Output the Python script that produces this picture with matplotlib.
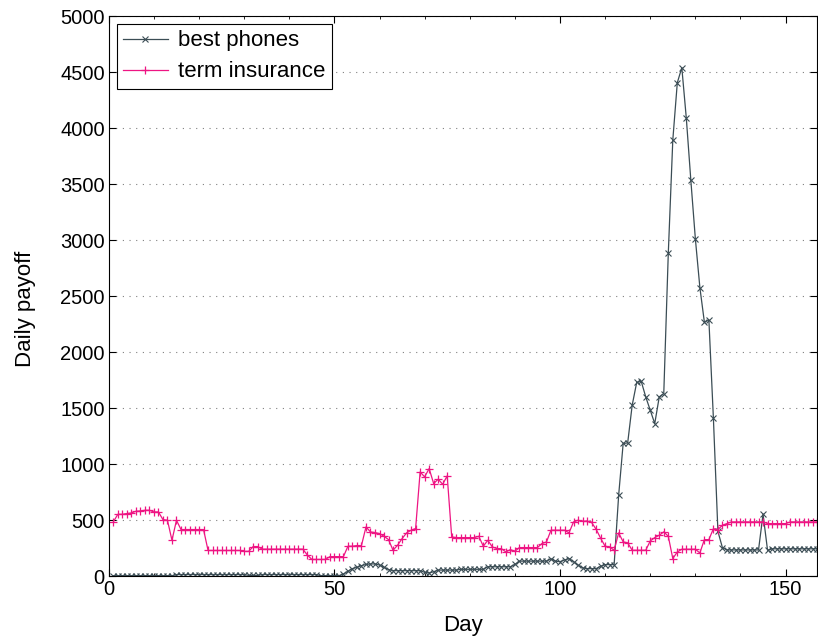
import matplotlib
matplotlib.use('Agg')
import matplotlib.pyplot as plt
from matplotlib.ticker import MultipleLocator

plt.rcParams['font.family'] = ['Liberation Sans', 'DejaVu Sans']

# dias 1..157
dias = list(range(1, 158))

best_phones = [
    5, 5, 5, 5, 5, 5, 5, 5, 5, 5, 5, 5, 5, 5,
    15, 15, 15, 15, 15, 15, 15, 15, 15, 15, 15, 15, 15, 15, 15, 15,
    8, 8, 8,
    15, 15, 15, 15, 15, 15, 15, 15, 15, 15, 15, 15, 15,
    5, 5, 5, 5, 5, 20,
    45, 68, 80, 95, 105, 110, 110, 100, 80, 60,
    50, 50, 50, 50, 50, 50, 50,
    35, 30, 40,
    55, 55, 55, 55, 55,
    62, 62, 62, 62, 62, 62,
    85, 85, 85, 85, 85, 85,
    105,
    135, 135, 135, 135, 135, 135, 135,
    155, 135, 130, 145, 158, 130, 100, 75,
    68, 68, 68, 89, 104, 104, 104,
    723, 1185, 1190, 1527, 1730, 1740, 1601, 1482, 1363, 1601, 1631,
    2881, 3893, 4405, 4539, 4086, 3533, 3012, 2577, 2268, 2286, 1408,
    400, 255,
    235, 235, 235, 235, 235, 235, 235, 235,
    554, 232,
    245, 245, 245, 245, 245, 245, 245, 245, 245, 245, 245,
]

term_insurance = [
    485, 553, 553, 560, 565, 580, 583, 589, 589, 574, 574, 506, 500, 321, 500,
    417, 417, 417, 417, 417, 417,
    230, 230, 230, 230, 230, 230, 230, 230,
    222, 222, 265, 265,
    242, 242, 242, 242, 242, 242, 242, 242, 242, 242,
    190, 150, 150, 150, 150,
    175, 175, 175, 175,
    268, 268, 274, 274,
    440, 396, 390, 381, 357, 327, 232, 277, 336, 387, 411, 426,
    931, 887, 961, 827, 866, 821, 896, 351,
    345, 345, 345, 345, 345, 357,
    268, 321, 262, 247, 247, 217, 238, 223,
    256, 256, 256, 256, 256,
    292, 306,
    411, 411, 411, 411,
    387, 485, 500, 490, 494, 480, 420, 340, 268, 262, 232, 387, 307, 298,
    232, 232, 232, 232,
    315, 345, 366, 396, 357, 158, 217,
    241, 241, 241, 241,
    208, 327, 327, 425, 417, 455, 470,
    485, 485, 485, 485, 485, 485, 485, 485,
    470, 470, 470, 470, 470,
    485, 485, 485, 485, 485, 485, 485,
]

fig = plt.figure(figsize=(8.18, 6.41), dpi=100)
ax = fig.add_axes([0.133, 0.101, 0.866, 0.874])

ax.plot(dias, best_phones, color='#3b4d55', marker='x', markersize=4,
        markeredgewidth=0.8, linewidth=0.9, label='best phones')
ax.plot(dias, term_insurance, color='#ee1583', marker='+', markersize=6,
        markeredgewidth=0.9, linewidth=0.9, label='term insurance')

ax.set_xlim(0, 157)
ax.set_ylim(0, 5000)
ax.set_xticks([0, 50, 100, 150])
ax.set_yticks(range(0, 5001, 500))
ax.xaxis.set_minor_locator(MultipleLocator(10))

ax.yaxis.grid(True, linestyle=(0, (1, 5)), color='#808080', linewidth=0.8)
ax.tick_params(direction='in', top=True, right=True, labelsize=14.5,
               length=5, pad=3)
ax.tick_params(which='minor', direction='in', top=True, length=2.5)
for s in ax.spines.values():
    s.set_linewidth(0.8)

ax.set_xlabel('Day', fontsize=16, labelpad=11)
ax.set_ylabel('Daily payoff', fontsize=16)
ax.yaxis.set_label_coords(-0.103, 0.477)

leg = ax.legend(loc='upper left', fontsize=16, fancybox=False,
                edgecolor='black', framealpha=1, borderaxespad=0.35,
                handlelength=2.0, borderpad=0.3, labelspacing=0.45,
                handletextpad=0.45)
leg.get_frame().set_linewidth(0.8)

fig.savefig('out.png', dpi=100)
